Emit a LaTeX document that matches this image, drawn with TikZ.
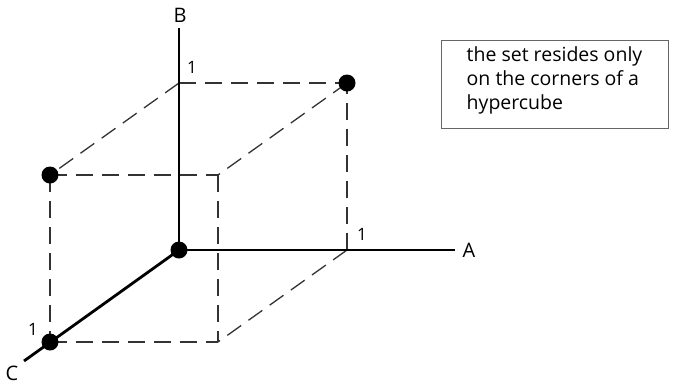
\documentclass[tikz,border=0pt]{standalone}
\usepackage{fontspec}
\setmainfont{Open Sans}
\usetikzlibrary{positioning,calc}
\tikzset{
  axis/.style={line width=2.8pt,draw=black},
  cubeedge/.style={line width=1.3pt,draw=black!80,dash pattern=on 17pt off 9pt},
  vertex/.style={circle,fill=black,minimum size=17pt,inner sep=0pt},
  axlabel/.style={font=\fontsize{20}{22}\selectfont,inner sep=0pt},
  onelabel/.style={font=\fontsize{17}{18}\selectfont,inner sep=0pt},
  notebox/.style={rectangle,draw=black!60,line width=1pt,fill=white,
    minimum width=227pt,minimum height=88pt,inner sep=0pt},
  notetext/.style={align=left,font=\fontsize{19.5}{24}\selectfont,inner sep=0pt},
}
\begin{document}
\begin{tikzpicture}[x=1pt,y=-1pt]
  \useasboundingbox (0,0) rectangle (683,384);
  % corners of the cube
  \coordinate (o)   at (179,250);
  \coordinate (a)   at (347,250);
  \coordinate (b)   at (179,83);
  \coordinate (c)   at (50,342);
  \coordinate (ab)  at (347,83);
  \coordinate (ac)  at (218,342);
  \coordinate (bc)  at (50,175);
  \coordinate (abc) at (218,175);
  % axis ends
  \coordinate (aend) at (455,250);
  \coordinate (bend) at (179,28);
  \coordinate (cend) at (24,361);
  % dashed edges
  \draw[cubeedge] (b) -- (ab);
  \draw[cubeedge] (b) -- (bc);
  \draw[cubeedge] (ab) -- (abc);
  \draw[cubeedge] (bc) -- (abc);
  \draw[cubeedge] (bc) -- (c);
  \draw[cubeedge] (abc) -- (ac);
  \draw[cubeedge] (c) -- (ac);
  \draw[cubeedge] (a) -- (ac);
  \draw[cubeedge] (a) -- (ab);
  % axes
  \draw[axis] (o) -- (aend);
  \draw[axis] (o) -- (bend);
  \draw[axis] (o) -- (cend);
  \node[axlabel] (alab) at (469,250) {A};
  \node[axlabel] (blab) at (180,15) {B};
  \node[axlabel] (clab) at (12,373) {C};
  \node[onelabel] (aone) at (362,234) {1};
  \node[onelabel] (bone) at (192,67) {1};
  \node[onelabel] (cone) at (33,329) {1};
  % points of the set
  \node[vertex] (po)   at (o) {};
  \node[vertex] (pab)  at (ab) {};
  \node[vertex] (pbc)  at (bc) {};
  \node[vertex] (pc)   at (c) {};
  % note
  \node[notebox] (note) at (554.5,84) {};
  \node[notetext, anchor=north west] (notetxt) at ($(note.north west)+(26,7)$)
    {the set resides only\\on the corners of a\\hypercube};
\end{tikzpicture}
\end{document}
